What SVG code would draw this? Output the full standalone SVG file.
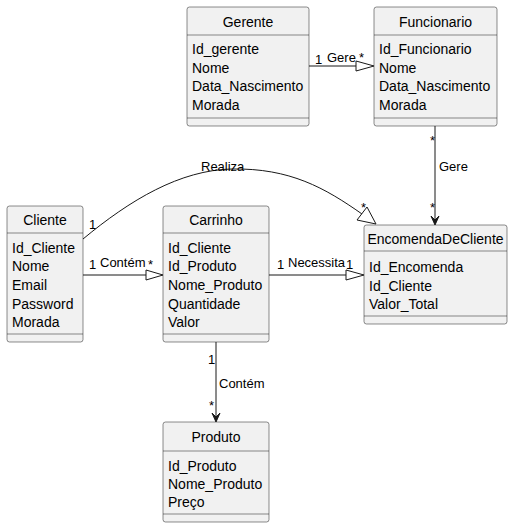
<svg xmlns="http://www.w3.org/2000/svg" width="513" height="528" viewBox="0 0 513 528">
<style>
.box{fill:#F1F1F1;stroke:#181818;stroke-width:0.5}
.sep{stroke:#181818;stroke-width:0.5}
.t{font-family:"Liberation Sans",Arial,sans-serif;font-size:14px;fill:#000}
.tc{font-family:"Liberation Sans",Arial,sans-serif;font-size:14px;fill:#000;text-anchor:middle}
.l{font-family:"Liberation Sans",Arial,sans-serif;font-size:13px;fill:#000}
.c{stroke:#181818;stroke-width:1;fill:none}
.tri{fill:#FFFFFF;stroke:#181818;stroke-width:1}
.arr{fill:#181818;stroke:#181818;stroke-width:1}
</style>
<rect width="513" height="528" fill="#FFFFFF"/>
<g id="Gerente">
<rect class="box" x="187" y="7" width="122" height="119" rx="2.5"/>
<line class="sep" x1="187" y1="35" x2="309" y2="35"/>
<line class="sep" x1="187" y1="118" x2="309" y2="118"/>
<text class="tc" x="248" y="27">Gerente</text>
<text class="t" x="192" y="54">Id_gerente</text>
<text class="t" x="192" y="73">Nome</text>
<text class="t" x="192" y="91">Data_Nascimento</text>
<text class="t" x="192" y="110">Morada</text>
</g>
<g id="Funcionario">
<rect class="box" x="374" y="7" width="123" height="119" rx="2.5"/>
<line class="sep" x1="374" y1="35" x2="497" y2="35"/>
<line class="sep" x1="374" y1="118" x2="497" y2="118"/>
<text class="tc" x="435.5" y="27">Funcionario</text>
<text class="t" x="379" y="54">Id_Funcionario</text>
<text class="t" x="379" y="73">Nome</text>
<text class="t" x="379" y="91">Data_Nascimento</text>
<text class="t" x="379" y="110">Morada</text>
</g>
<g id="Cliente">
<rect class="box" x="7" y="206" width="76" height="136" rx="2.5"/>
<line class="sep" x1="7" y1="233" x2="83" y2="233"/>
<line class="sep" x1="7" y1="334" x2="83" y2="334"/>
<text class="tc" x="45" y="225">Cliente</text>
<text class="t" x="12" y="253">Id_Cliente</text>
<text class="t" x="12" y="271">Nome</text>
<text class="t" x="12" y="290">Email</text>
<text class="t" x="12" y="309">Password</text>
<text class="t" x="12" y="327">Morada</text>
</g>
<g id="Carrinho">
<rect class="box" x="163" y="206" width="106" height="136" rx="2.5"/>
<line class="sep" x1="163" y1="233" x2="269" y2="233"/>
<line class="sep" x1="163" y1="334" x2="269" y2="334"/>
<text class="tc" x="216" y="225">Carrinho</text>
<text class="t" x="168" y="253">Id_Cliente</text>
<text class="t" x="168" y="271">Id_Produto</text>
<text class="t" x="168" y="290">Nome_Produto</text>
<text class="t" x="168" y="309">Quantidade</text>
<text class="t" x="168" y="327">Valor</text>
</g>
<g id="EncomendaDeCliente">
<rect class="box" x="364" y="225" width="143" height="99" rx="2.5"/>
<line class="sep" x1="364" y1="251" x2="507" y2="251"/>
<line class="sep" x1="364" y1="316" x2="507" y2="316"/>
<text class="tc" x="435.5" y="244">EncomendaDeCliente</text>
<text class="t" x="369" y="272">Id_Encomenda</text>
<text class="t" x="369" y="291">Id_Cliente</text>
<text class="t" x="369" y="309">Valor_Total</text>
</g>
<g id="Produto">
<rect class="box" x="163" y="422" width="106" height="100" rx="2.5"/>
<line class="sep" x1="163" y1="451" x2="269" y2="451"/>
<line class="sep" x1="163" y1="514" x2="269" y2="514"/>
<text class="tc" x="216" y="442">Produto</text>
<text class="t" x="168" y="471">Id_Produto</text>
<text class="t" x="168" y="489">Nome_Produto</text>
<text class="t" x="168" y="507">Preço</text>
</g>
<g id="connectors">
<line class="c" x1="309" y1="66" x2="356" y2="66"/>
<polygon class="tri" points="356,61 374,66 356,71"/>
<text class="l" x="315" y="64">1</text>
<text class="l" x="327" y="62">Gere</text>
<text class="l" x="359" y="62">*</text>

<line class="c" x1="435" y1="126" x2="435" y2="222"/>
<polygon class="arr" points="435,225 431,216 435,220 439,216"/>
<text class="l" x="430" y="145">*</text>
<text class="l" x="439" y="171">Gere</text>
<text class="l" x="430" y="212">*</text>

<path class="c" d="M83,239 C130,200 180,170 232,169 C290,168 325,188 362,214"/>
<polygon class="tri" points="357,220 376,224 367,207"/>
<text class="l" x="201" y="171">Realiza</text>
<text class="l" x="89" y="229">1</text>
<text class="l" x="361" y="212">*</text>

<line class="c" x1="83" y1="275" x2="146" y2="275"/>
<polygon class="tri" points="146,270 163,275 146,280"/>
<text class="l" x="89" y="269">1</text>
<text class="l" x="100" y="267">Contém</text>
<text class="l" x="148" y="269">*</text>

<line class="c" x1="269" y1="275" x2="346" y2="275"/>
<polygon class="tri" points="346,270 364,275 346,280"/>
<text class="l" x="277" y="269">1</text>
<text class="l" x="288" y="267">Necessita</text>
<text class="l" x="346" y="269">1</text>

<line class="c" x1="216" y1="342" x2="216" y2="419"/>
<polygon class="arr" points="216,422 212,413 216,417 220,413"/>
<text class="l" x="208" y="364">1</text>
<text class="l" x="219" y="388">Contém</text>
<text class="l" x="209" y="410">*</text>
</g>
</svg>
